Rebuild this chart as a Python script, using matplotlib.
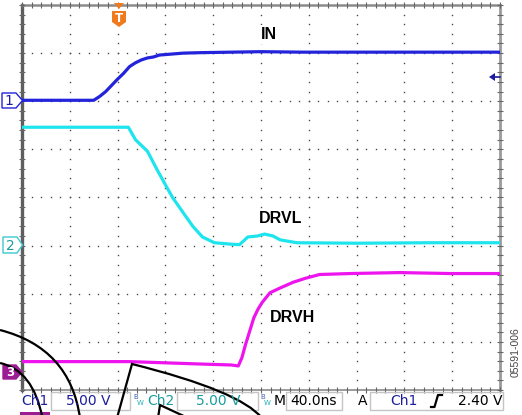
import numpy as np
import matplotlib.pyplot as plt
from matplotlib.path import Path
from matplotlib.patches import PathPatch, Polygon, Rectangle

# scope setup
T_DIV = 40.0      # ns/div
V_DIV = 5.0       # V/div, all channels
T_START = -80.0   # trigger point is 2 divs in from the left edge
N_XDIV, N_YDIV = 10, 8

# ground reference of each channel, in divisions from the bottom of the screen
GND_IN = 6.0
GND_DRVL = 3.0
GND_DRVH = 0.4

# traces (time in ns, level in V)
in_t = [-80, -50, -20, -15, -10, -5, 0, 5, 10, 15, 20, 25, 30, 35, 45, 55, 70, 95, 120, 155, 195, 235, 280, 320]
in_v = [0.1, 0.1, 0.1, 0.5, 1.0, 1.65, 2.3, 2.9, 3.6, 4.0, 4.3, 4.5, 4.6, 4.8, 4.9, 5.0, 5.05, 5.1, 5.15, 5.1, 5.1, 5.1, 5.1, 5.1]

drvl_t = [-80, 9, 15, 25, 33, 41, 46, 55, 63, 71, 81, 95, 102, 109, 117, 123, 130, 136, 150, 200, 260, 320]
drvl_v = [12.3, 12.3, 11.0, 9.8, 7.9, 6.1, 5.0, 3.4, 2.0, 0.9, 0.3, 0.15, 0.1, 0.9, 1.0, 1.2, 1.0, 0.6, 0.3, 0.25, 0.3, 0.3]

drvh_t = [-80, 10, 69, 95, 101, 104, 107, 111, 114, 117.5, 121, 127.5, 136, 147, 157, 169, 195, 236, 278, 320]
drvh_v = [0.95, 0.95, 0.7, 0.6, 0.5, 1.35, 2.7, 4.3, 5.5, 6.4, 7.1, 8.1, 8.6, 9.2, 9.6, 10.0, 10.1, 10.2, 10.1, 10.1]

# status line
ch1_scale = "5.00 V"
ch2_scale = "5.00 V"
time_scale = "40.0ns"
trig_level = "2.40 V"

C_IN = "#2323dc"
C_DRVL = "#1ee4ee"
C_DRVH = "#ee14ee"
C_CH1TXT = "#1c1c9c"
C_CH2TXT = "#1a9c9c"
C_CH3 = "#9c1c94"

W, H = 522, 415
fig = plt.figure(figsize=(W / 100, H / 100), dpi=100)
fig.patch.set_facecolor("white")

# ---- screen area ----
ax = fig.add_axes([22 / W, (H - 390) / H, 478 / W, 385 / H])
ax.set_xlim(T_START, T_START + N_XDIV * T_DIV)
ax.set_ylim(0, N_YDIV)
ax.axis("off")

dot = dict(ls="none", marker="s", ms=1.0, mew=0, color="#4a4a4a")
minor_y = np.arange(0, N_YDIV + 0.01, 0.2)
minor_x = T_START + np.arange(0, N_XDIV + 0.01, 0.2) * T_DIV
for k in range(1, N_XDIV):
    ax.plot(np.full(len(minor_y), T_START + k * T_DIV), minor_y, **dot)
for j in range(1, N_YDIV):
    ax.plot(minor_x, np.full(len(minor_x), j), **dot)

# frame + edge ticks
edge = "#8a8a8a"
ax.plot([0, 0], [0, 1], transform=ax.transAxes, color="#5e5e5e", lw=2.4, clip_on=False)
ax.plot([0, 1], [1, 1], transform=ax.transAxes, color=edge, lw=1.8, clip_on=False)
ax.plot([1, 1], [0, 1], transform=ax.transAxes, color="#9a9a9a", lw=2.0, clip_on=False)
ax.plot([0, 1], [0, 0], transform=ax.transAxes, color=edge, lw=1.2, clip_on=False)
tk = dict(ls="none", color="#666666", ms=4.5, mew=0.8, clip_on=False)
ax.plot(minor_x, np.full(len(minor_x), N_YDIV), marker="|", **tk)
ax.plot(minor_x, np.zeros(len(minor_x)), marker="|", **tk)
ax.plot(np.full(len(minor_y), T_START), minor_y, marker="_", **tk)
ax.plot(np.full(len(minor_y), T_START + N_XDIV * T_DIV), minor_y, marker="_", **tk)

# traces
tr = dict(lw=2.3, solid_joinstyle="round", solid_capstyle="butt")
ax.plot(in_t, GND_IN + np.array(in_v) / V_DIV, color=C_IN, **tr)
ax.plot(drvl_t, GND_DRVL + np.array(drvl_v) / V_DIV, color=C_DRVL, **tr)
ax.plot(drvh_t, GND_DRVH + np.array(drvh_v) / V_DIV, color=C_DRVH, **tr)

lbl = dict(fontsize=11.5, fontweight="bold", family="Liberation Sans", ha="center", va="center",
           bbox=dict(fc="white", ec="none", pad=1.5))
ax.text(127, 7.38, "IN", **lbl)
ax.text(136, 3.57, "DRVL", **lbl)
ax.text(146, 1.5, "DRVH", **lbl)

# ---- overlay in pixel coordinates (markers, status bar, stray drawing) ----
ov = fig.add_axes([0, 0, 1, 1])
ov.set_xlim(0, W)
ov.set_ylim(H, 0)
ov.axis("off")
ov.patch.set_alpha(0)

# channel ground markers
ov.add_patch(Polygon([(2, 93), (16, 93), (22.5, 100.5), (16, 108), (2, 108)], fc="white", ec=C_IN, lw=1.0))
ov.text(9, 101, "1", color=C_CH1TXT, fontsize=10, ha="center", va="center")
ov.add_patch(Polygon([(3, 237), (17, 237), (22.5, 245), (17, 253), (3, 253)], fc="white", ec="#3cc8d2", lw=1.0))
ov.text(10, 245.5, "2", color=C_CH2TXT, fontsize=10, ha="center", va="center")
ov.add_patch(Polygon([(3, 365), (16, 365), (22, 372), (16, 379), (3, 379)], fc=C_CH3, ec=C_CH3, lw=1.0))
ov.text(10, 372.5, "3", color="white", fontsize=8.5, fontweight="bold", ha="center", va="center")

# trigger position marker
orange = "#f07a1e"
ov.add_patch(Polygon([(114, 3), (124, 3), (119, 9)], fc=orange, ec="none"))
ov.add_patch(Polygon([(112, 11), (126, 11), (126, 22), (119, 27), (112, 22)], fc=orange, ec="none"))
ov.text(119, 18, "T", color="white", fontsize=8.5, fontweight="bold", ha="center", va="center")

# trigger level arrow
ov.add_patch(Polygon([(489, 77), (495, 73), (495, 81)], fc=C_CH1TXT, ec="none"))
ov.plot([494, 500], [77, 77], color=C_CH1TXT, lw=1.2)

# status bar
box = dict(fc="none", ec="#c4c4c4", lw=1.0)
for x0, x1 in [(51, 130), (177, 258), (286, 342), (370, 503)]:
    ov.add_patch(Rectangle((x0, 392), x1 - x0, 18, **box))
st = dict(fontsize=10, va="center", family="DejaVu Sans")
ov.text(21, 401, "Ch1", color=C_CH1TXT, **st)
ov.text(110, 401, ch1_scale, color=C_CH1TXT, ha="right", **st)
ov.text(147.5, 401, "Ch2", color=C_CH2TXT, **st)
ov.text(240, 401, ch2_scale, color=C_CH2TXT, ha="right", **st)
for bx in (133.5, 260.5):
    ov.text(bx, 397, "B", color="#4060b0", fontsize=5, va="center")
    ov.text(bx + 3, 403, "W", color="#20b0b8", fontsize=5, va="center")
ov.text(273.5, 401, "M", color="black", **st)
ov.text(314, 401, time_scale, color="black", ha="center", **st)
ov.text(358, 401, "A", color="black", **st)
ov.text(390, 401, "Ch1", color=C_CH1TXT, **st)
ov.plot([431, 434.5, 438, 442], [407, 407, 395, 395], color="black", lw=1.6)
ov.text(502, 401, trig_level, color="black", ha="right", **st)

# second status row, cut off by the image edge
ov.add_patch(Rectangle((20, 412), 30, 10, fc=C_CH3, ec="none"))
ov.text(92, 421, "5.00 V", color=C_DRVH, ha="center", **st)

# stray black strokes over the lower left corner
MV, C3, LN = Path.MOVETO, Path.CURVE3, Path.LINETO
strokes = [
    Path([(0, 330), (70, 348), (80, 418)], [MV, C3, C3]),
    Path([(0, 363), (33, 370), (42.5, 418)], [MV, C3, C3]),
    Path([(117, 418), (132, 364), (240, 391), (262, 418)], [MV, LN, C3, C3]),
    Path([(158, 418), (160, 405), (188, 418)], [MV, LN, LN]),
]
for p in strokes:
    ov.add_patch(PathPatch(p, fc="none", ec="black", lw=1.6, capstyle="butt", joinstyle="miter"))

# figure number
ov.text(516, 352, "05591-006", rotation=90, fontsize=7.5, color="#444444", ha="center", va="center",
        family="Liberation Sans")

fig.savefig("out.png", dpi=100)
